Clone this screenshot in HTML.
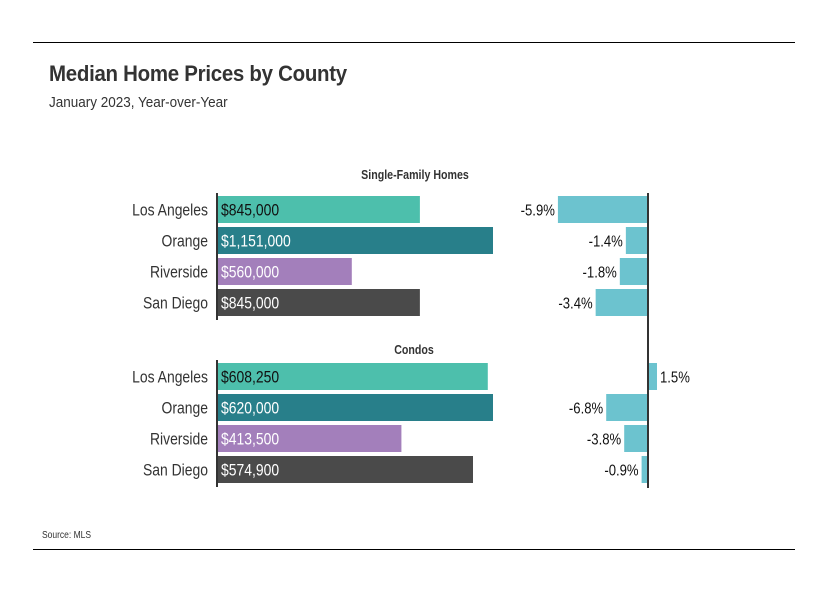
<!DOCTYPE html>
<html><head><meta charset="utf-8"><style>
body{margin:0;background:#fff;}
svg{display:block;font-family:"Liberation Sans",sans-serif;}
</style></head><body>
<svg id="chart" width="822" height="591" viewBox="0 0 822 591">
<line x1="33" y1="42.5" x2="795" y2="42.5" stroke="#000" stroke-width="1"/>
<text transform="translate(49,81) scale(0.93,1)" font-size="22" font-weight="bold" fill="#333" letter-spacing="-0.3">Median Home Prices by County</text>
<text transform="translate(49,107) scale(0.9,1)" font-size="15" fill="#333">January 2023, Year-over-Year</text>
<text transform="translate(415,179) scale(0.82,1)" font-size="13" font-weight="bold" fill="#333" text-anchor="middle">Single-Family Homes</text>
<text transform="translate(414,354) scale(0.82,1)" font-size="13" font-weight="bold" fill="#333" text-anchor="middle">Condos</text>
<g id="marks"></g>
<line x1="217" y1="193" x2="217" y2="320" stroke="#333" stroke-width="2"/>
<line x1="217" y1="360" x2="217" y2="487" stroke="#333" stroke-width="2"/>
<line x1="648" y1="193" x2="648" y2="488" stroke="#333" stroke-width="2"/>
<text transform="translate(42,538) scale(0.85,1)" font-size="10" fill="#333">Source: MLS</text>
<line x1="33" y1="549.5" x2="795" y2="549.5" stroke="#000" stroke-width="1"/>
</svg>
<script>
const counties = ["Los Angeles","Orange","Riverside","San Diego"];
const sfPrices = [845000,1151000,560000,845000];
const condoPrices = [608250,620000,413500,574900];
const sfChange = [-5.9,-1.4,-1.8,-3.4];
const condoChange = [1.5,-6.8,-3.8,-0.9];
const colors = ["#4dbfac","#287f8a","#a37fbb","#4a4a4a"];
const NS="http://www.w3.org/2000/svg";
const g=document.getElementById('marks');
const x0=218, zero=647;
function fmt(v){return "$"+v.toLocaleString("en-US");}
function mk(tag,attrs){const e=document.createElementNS(NS,tag);for(const k in attrs)e.setAttribute(k,attrs[k]);g.appendChild(e);return e;}
function txt(x,y,s,size,fill,anchor){
  const t=mk('text',{transform:`translate(${x},${y}) scale(0.82,1)`,'font-size':size,fill:fill,'text-anchor':anchor});
  t.textContent=s;return t;
}
function group(prices,changes,top,pctScale,prefix){
  const maxP=Math.max(...prices), pxPer=275/maxP;
  prices.forEach((p,i)=>{
    const y=top+i*31, cy=y+13.5;
    const lab=txt(208,cy+6,counties[i],17,'#333','end');
    
    
    const r=mk('rect',{x:x0,y:y,width:p*pxPer,height:27,fill:colors[i]});
    
    
    const t=txt(x0+3,cy+6,fmt(p),17,i==0?'#111':'#fff','start');
    
    
    const c=changes[i], w=Math.abs(c)*pctScale;
    const bx=c<0?zero-w:zero+1;
    const b=mk('rect',{x:bx,y:y,width:w,height:27,fill:'#6cc3cf'});
    
    
    const ct=txt(c<0?bx-3:bx+w+3,cy+6,c.toFixed(1)+"%",16,'#111',c<0?'end':'start');
    
    
  });
}
group(sfPrices,sfChange,196,15.1,'sf');
group(condoPrices,condoChange,363,6,'condo');
</script>
</body></html>
